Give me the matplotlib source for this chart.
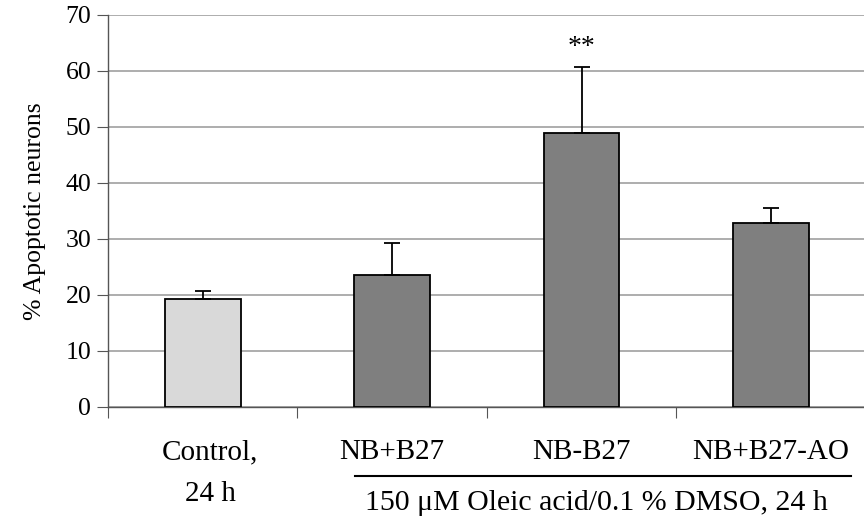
import matplotlib
matplotlib.use("Agg")
import matplotlib.pyplot as plt
import matplotlib.transforms as mtransforms

categories = ["Control,\n24 h", "NB+B27", "NB-B27", "NB+B27-AO"]
values = [19.3, 23.6, 48.9, 32.8]
errors = [1.4, 5.7, 11.9, 2.8]
colors = ["#d9d9d9", "#7f7f7f", "#7f7f7f", "#7f7f7f"]
yticks = [0, 10, 20, 30, 40, 50, 60, 70]
group_label = "150 \u03bcM Oleic acid/0.1 % DMSO, 24 h"

plt.rcParams['font.family'] = ['Liberation Serif', 'DejaVu Serif']

fig = plt.figure(figsize=(8.64, 5.17), dpi=100)
ax = fig.add_axes([0.125, 0.2128, 0.877, 0.7582])

x = list(range(len(categories)))
ax.bar(x, values, width=0.4, color=colors, edgecolor="black", linewidth=1.3, zorder=3)
ax.errorbar(x, values, yerr=[[0]*len(errors), errors], fmt="none", ecolor="black",
            elinewidth=1.3, capsize=6, capthick=1.3, zorder=4)

ax.set_xlim(-0.5, 3.5)
ax.set_ylim(0, 70)
ax.set_yticks(yticks)
ax.yaxis.grid(True, color="#a0a0a0", linewidth=1.2, zorder=0)
ax.set_axisbelow(True)

for s in ["top", "right"]:
    ax.spines[s].set_visible(False)
ax.spines["left"].set_color("#555555")
ax.spines["bottom"].set_color("#555555")
ax.spines["left"].set_linewidth(1.0)
ax.spines["bottom"].set_linewidth(1.0)

ax.set_xticks([-0.5, 0.5, 1.5, 2.5, 3.5])
ax.set_xticklabels([])
ax.tick_params(axis="x", direction="out", length=8, color="#555555")
ax.tick_params(axis="y", direction="out", length=8, color="#555555", labelsize=18.5, pad=4)

trans = mtransforms.blended_transform_factory(ax.transData, ax.transAxes)
for xi, lab in zip(x, categories):
    ax.text(xi + (0.04 if "\n" in lab else 0), -0.082, lab, transform=trans,
            ha="center", va="top", fontsize=21, linespacing=1.8)

ax.plot([0.803, 3.42], [-0.176, -0.176], transform=trans, color="black", linewidth=1.5,
        clip_on=False)
ax.text(2.08, -0.262, group_label, transform=trans, ha="center", va="baseline",
        fontsize=21.5)

ax.text(2, values[2] + errors[2] + 1.2, "**", ha="center", va="bottom", fontsize=20)

ax.set_ylabel("% Apoptotic neurons", fontsize=18.5, labelpad=14)

fig.savefig("out.png", dpi=100)
